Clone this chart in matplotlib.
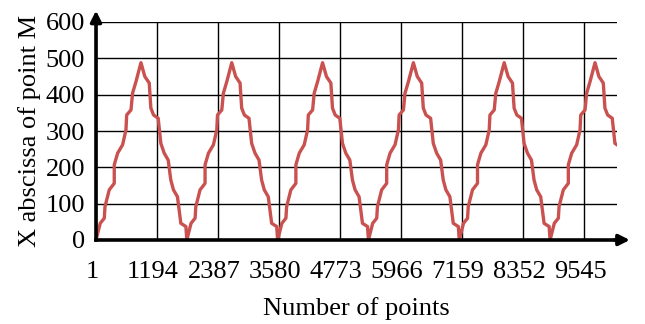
import numpy as np
import matplotlib.pyplot as plt
from matplotlib.transforms import ScaledTranslation

plt.rcParams['font.family'] = ['Liberation Serif', 'DejaVu Serif']

# one cycle of the trace (offset in points, abscissa)
cycle_offset = [0, 83, 162, 176, 259, 357, 357, 423, 520, 586, 600, 684, 715,
                782, 879, 955, 1041, 1073, 1126, 1216, 1268, 1334, 1412,
                1463, 1515, 1593, 1659, 1758, 1776]
cycle_value = [0, 46, 60, 92, 138, 156, 207, 239, 262, 303, 344, 358, 404,
               436, 488, 450, 432, 363, 344, 335, 266, 239, 220,
               165, 138, 119, 46, 37, 0]
cycle_start = [1, 1777, 3553, 5329, 7105, 8881]
last_point = 10190
last_value = 262

tick_pos = [1, 1194, 2387, 3580, 4773, 5966, 7159, 8352, 9545]
y_ticks = [0, 100, 200, 300, 400, 500, 600]

xs, ys = [], []
for s in cycle_start:
    for o, v in zip(cycle_offset, cycle_value):
        if s + o <= last_point:
            xs.append(s + o)
            ys.append(v)
xs.append(last_point)
ys.append(last_value)

fig = plt.figure(figsize=(6.45, 3.24), dpi=100)
ax = fig.add_axes([96 / 645, 84 / 324, (617 - 96) / 645, (240 - 22) / 324])

ax.plot(xs, ys, color='#c9514f', linewidth=2.4, solid_joinstyle='round', zorder=3)

ax.set_xlim(1, last_point)
ax.set_ylim(0, 600)
ax.set_xticks(tick_pos)
ax.set_xticklabels([str(t) for t in tick_pos])
ax.set_yticks(y_ticks)
ax.tick_params(length=0, labelsize=19, pad=8)
ax.tick_params(axis='x', pad=15)
ax.grid(True, color='black', linewidth=1.0)

# x labels sit a little left of their grid lines in the original
shift = ScaledTranslation(-4 / 100, 0, fig.dpi_scale_trans)
for lab in ax.get_xticklabels():
    lab.set_transform(lab.get_transform() + shift)

for side in ['top', 'right']:
    ax.spines[side].set_visible(False)
for side in ['left', 'bottom']:
    ax.spines[side].set_linewidth(2.6)
    ax.spines[side].set_zorder(4)

# arrow heads on both axes
ax.annotate('', xy=(1.03, 0), xytext=(0.99, 0), xycoords='axes fraction',
            arrowprops=dict(arrowstyle='-|>', color='black', lw=2.6,
                            mutation_scale=16), annotation_clip=False)
ax.annotate('', xy=(0, 1.065), xytext=(0, 0.99), xycoords='axes fraction',
            arrowprops=dict(arrowstyle='-|>', color='black', lw=2.6,
                            mutation_scale=16), annotation_clip=False)

ax.set_xlabel('Number of points', fontsize=19, labelpad=10)
ax.set_ylabel('X abscissa of point M', fontsize=19, labelpad=3)

fig.savefig('out.png', dpi=100)
